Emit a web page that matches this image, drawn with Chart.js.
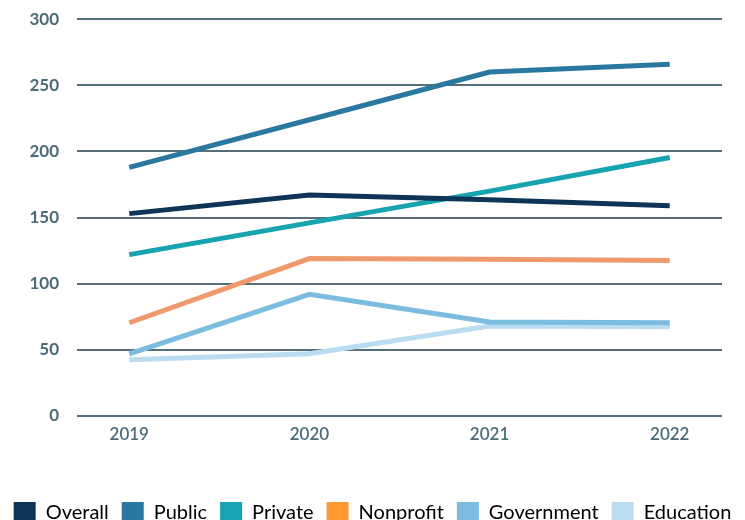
<!DOCTYPE html>
<html>
<head>
<meta charset="utf-8">
<script src="https://cdn.jsdelivr.net/npm/chart.js@4"></script>
<style>
  html, body { margin: 0; padding: 0; overflow: hidden; background: #fff; }
  #wrap { width: 745px; height: 543px; position: relative; margin-top: -9px; }
</style>
</head>
<body>
<div id="wrap"><canvas id="chart"></canvas></div>
<script>
const years = [2019, 2020, 2021, 2022];
const seriesNames = ['Overall', 'Public', 'Private', 'Nonprofit', 'Government', 'Education'];
const overall = [153, 167, 163.5, 159];
const publicSector = [188, 224, 260, 266];
const privateSector = [122, 146, 170, 195.5];
const nonprofit = [70.5, 119, 118.5, 117.5];
const government = [47, 92, 71, 70.5];
const education = [42.5, 47, 68, 67.5];
const lineColors = ['#0e3458', '#2a78a0', '#17a3b1', '#ef9a6d', '#7dbce1', '#badcf0'];
const legendColors = ['#0e3458', '#2a78a0', '#17a3b1', '#ff9933', '#7dbce1', '#badcf0'];
const yTicks = [0, 50, 100, 150, 200, 250, 300];

const slate = '#4b6b78';
const allSeries = [overall, publicSector, privateSector, nonprofit, government, education];

const datasets = allSeries.map((vals, i) => ({
    label: seriesNames[i],
    data: vals.map((v, j) => ({ x: years[j], y: v })),
    borderColor: lineColors[i],
    backgroundColor: lineColors[i],
    borderWidth: 5,
    pointRadius: 0,
    tension: 0,
    fill: false
}));

const ctx = document.getElementById('chart');
new Chart(ctx, {
    type: 'line',
    data: { datasets: datasets },
    options: {
        responsive: true,
        maintainAspectRatio: false,
        animation: false,
        layout: { padding: { top: 1, right: 0, left: 0, bottom: 0 } },
        plugins: {
            tooltip: { enabled: false },
            legend: {
                position: 'bottom',
                labels: {
                    boxWidth: 22,
                    boxHeight: 22,
                    padding: 13,
                    color: slate,
                    font: { family: 'Lato', size: 20 },
                    generateLabels: chart => seriesNames.map((name, i) => ({
                        text: name,
                        fillStyle: legendColors[i],
                        strokeStyle: legendColors[i],
                        lineWidth: 0,
                        datasetIndex: i
                    }))
                }
            }
        },
        scales: {
            x: {
                type: 'linear',
                min: 2018.71,
                max: 2022.29,
                afterBuildTicks: axis => { axis.ticks = years.map(v => ({ value: v })); },
                afterFit: axis => { axis.height = 73; },
                grid: { display: false, drawTicks: false },
                border: { display: false },
                ticks: {
                    color: slate,
                    padding: 8,
                    maxRotation: 0,
                    font: { family: 'Lato', size: 17, weight: '600' },
                    callback: v => String(v)
                }
            },
            y: {
                min: 0,
                max: 300,
                afterBuildTicks: axis => { axis.ticks = yTicks.map(v => ({ value: v })); },
                afterFit: axis => { axis.width = 77; },
                grid: { color: '#566e79', lineWidth: 2, drawTicks: false },
                border: { display: false },
                ticks: {
                    color: slate,
                    padding: 18,
                    font: { family: 'Lato', size: 17, weight: 'bold' }
                }
            },
            // empty right-hand axis, only to keep the gridlines short of the edge
            yRight: {
                position: 'right',
                min: 0,
                max: 300,
                grid: { display: false, drawTicks: false },
                border: { display: false },
                ticks: { display: false },
                afterFit: axis => { axis.width = 23; }
            }
        }
    }
});
</script>
</body>
</html>
